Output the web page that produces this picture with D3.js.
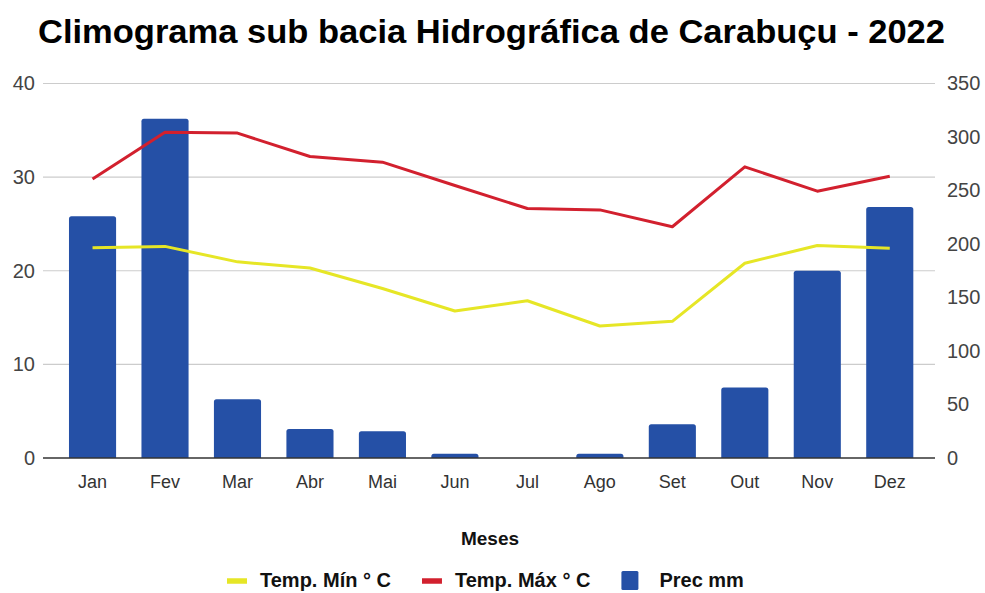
<!DOCTYPE html>
<html><head><meta charset="utf-8">
<script src="https://cdn.jsdelivr.net/npm/d3@7"></script>
<style>body{margin:0;background:#fff}svg{display:block}</style>
</head><body><svg id="c" width="985" height="593"></svg>
<script>
const months = ["Jan","Fev","Mar","Abr","Mai","Jun","Jul","Ago","Set","Out","Nov","Dez"];
const tempMin = [22.45,22.6,20.95,20.3,18.1,15.7,16.8,14.1,14.6,20.8,22.7,22.4];
const tempMax = [29.8,34.8,34.7,32.2,31.6,29.1,26.65,26.5,24.7,31.1,28.5,30.1];
const prec = [226,317,55,27,25,4,0,4,31.5,66,175,234.5];
const leftTicks = [0,10,20,30,40];
const rightTicks = [0,50,100,150,200,250,300,350];

const svg = d3.select("#c");
const gx0 = 43, gx1 = 935, y0 = 458, y1 = 83.5;
const x = d3.scaleBand().domain(months).range([56.3, 926]).paddingInner(0.35).paddingOuter(0.175);
const yL = d3.scaleLinear().domain([0,40]).range([y0,y1]);
const yR = d3.scaleLinear().domain([0,350]).range([y0,y1]);
const font = "'Liberation Sans', Arial, sans-serif";

svg.append("text").attr("x", 38).attr("y", 43)
  .attr("font-family", font).attr("font-weight","bold").attr("font-size", 33)
  .attr("textLength", 907).attr("lengthAdjust","spacingAndGlyphs")
  .attr("fill","#000").text("Climograma sub bacia Hidrográfica de Carabuçu - 2022");

// gridlines
svg.append("g").selectAll("line").data(leftTicks.filter(d=>d>0)).join("line")
  .attr("x1", gx0).attr("x2", gx1).attr("y1", d=>yL(d)).attr("y2", d=>yL(d))
  .attr("stroke","#cccccc").attr("stroke-width",1.2);

// left axis
const axL = svg.append("g").attr("transform",`translate(${gx0},0)`)
  .call(d3.axisLeft(yL).tickValues(leftTicks).tickSize(0).tickPadding(8));
axL.select(".domain").remove();
axL.selectAll("text").attr("font-family",font).attr("font-size",20).attr("fill","#444");

const axR = svg.append("g").attr("transform",`translate(${gx1},0)`)
  .call(d3.axisRight(yR).tickValues(rightTicks).tickSize(0).tickPadding(12));
axR.select(".domain").remove();
axR.selectAll("text").attr("font-family",font).attr("font-size",20).attr("fill","#444");

// bars
svg.append("g").selectAll("path").data(prec).join("path")
  .attr("fill","#2550a6")
  .attr("d",(d,i)=>{
    const bx = x(months[i]), bw = x.bandwidth(), top = yR(d), h = y0 - top;
    if (h <= 0) return "";
    const r = Math.min(2.5, h);
    return `M${bx},${y0}V${top+r}Q${bx},${top} ${bx+r},${top}H${bx+bw-r}Q${bx+bw},${top} ${bx+bw},${top+r}V${y0}Z`;
  });

// baseline
svg.append("line").attr("x1",gx0).attr("x2",gx1).attr("y1",y0).attr("y2",y0)
  .attr("stroke","#333").attr("stroke-width",1.3);

// x axis labels
const axB = svg.append("g").attr("transform",`translate(0,${y0})`)
  .call(d3.axisBottom(x).tickSize(0).tickPadding(17));
axB.select(".domain").remove();
axB.selectAll("text").attr("font-family",font).attr("font-size",18).attr("fill","#333");

// lines
const line = d3.line().x((d,i)=>x(months[i])+x.bandwidth()/2).y(d=>yL(d));
svg.append("path").datum(tempMin).attr("d",line).attr("fill","none")
  .attr("stroke","#e6e626").attr("stroke-width",3).attr("stroke-linejoin","round");
svg.append("path").datum(tempMax).attr("d",line).attr("fill","none")
  .attr("stroke","#d2202e").attr("stroke-width",3).attr("stroke-linejoin","round");

// axis title
svg.append("text").attr("x",490).attr("y",545).attr("text-anchor","middle")
  .attr("font-family",font).attr("font-weight","bold").attr("font-size",19)
  .attr("fill","#111").text("Meses");

// legend
const leg = [
  {name:"Temp. Mín ° C", color:"#e6e626", type:"line"},
  {name:"Temp. Máx ° C", color:"#d2202e", type:"line"},
  {name:"Prec mm", color:"#2550a6", type:"rect"}
];
const lg = svg.append("g");
let cx = 227;
leg.forEach(l=>{
  if (l.type==="line") {
    lg.append("line").attr("x1",cx).attr("x2",cx+20).attr("y1",581).attr("y2",581)
      .attr("stroke",l.color).attr("stroke-width",5.5);
  } else {
    lg.append("rect").attr("x",cx).attr("y",571).attr("width",17).attr("height",19).attr("rx",1.5)
      .attr("fill",l.color);
  }
  const tx = l.type==="line" ? cx+33 : cx+38;
  const t = lg.append("text").attr("x", tx).attr("y",587)
    .attr("font-family",font).attr("font-weight","bold").attr("font-size",20)
    .attr("fill","#111").text(l.name);
  cx = tx + t.node().getComputedTextLength() + 31;
});
</script></body></html>
